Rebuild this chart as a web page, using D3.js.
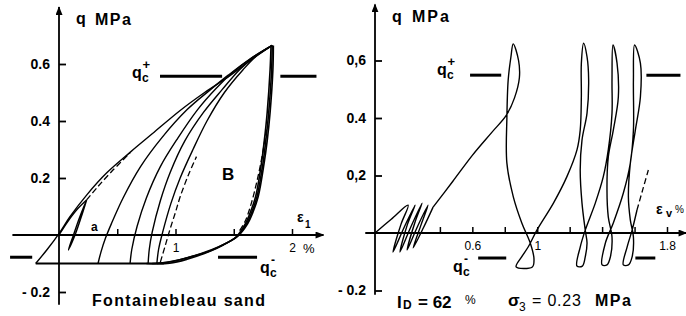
<!DOCTYPE html>
<html><head><meta charset="utf-8">
<script src="https://cdn.jsdelivr.net/npm/d3@7"></script>
<style>body{margin:0;background:#fff}svg{display:block}text{font-family:"Liberation Sans",Arial,sans-serif;fill:#000}</style>
</head><body><svg id="c" width="686" height="316"></svg>
<script>
// ---------- LEFT PANEL DATA (ε1 %, q MPa) ----------
const leftYTicks = [-0.2, 0.2, 0.4, 0.6];
const leftYLabels = ["- 0.2", "0.2", "0.4", "0.6"];
const leftXTicks = [0.5, 1, 1.5, 2];
const leftXLabels = ["", "1", "", "2"];
const qcPlus = 0.557, qcMinus = -0.078;
const leftInitial = [[0,0],[0.08,0.05],[0.16,0.092],[0.237,0.123]];
const leftLoopA = [[0.237,0.123],[0.175,0.06],[0.12,-0.005],[0.08,-0.053],[0.135,-0.003],[0.19,0.062],[0.237,0.123]];
const leftDashA = [[0.237,0.123],[0.33,0.168],[0.45,0.222],[0.61,0.288]];
const leftEnvelope = [[-0.2,-0.1],[-0.1,-0.05],[0,0.005],[0.094,0.064],[0.237,0.14],[0.41,0.218],[0.61,0.29],[0.8,0.355],[1.04,0.437],[1.25,0.5],[1.47,0.56],[1.65,0.615],[1.83,0.665]];
const leftReload2 = [[0.335,-0.1],[0.36,-0.06],[0.40,-0.01],[0.45,0.04],[0.55,0.13],[0.70,0.24],[0.88,0.34],[1.10,0.44],[1.30,0.51],[1.45,0.56],[1.63,0.615],[1.83,0.665]];
const leftReload3 = [[0.61,-0.1],[0.625,-0.05],[0.67,0.03],[0.75,0.13],[0.87,0.24],[1.02,0.34],[1.19,0.44],[1.35,0.515],[1.49,0.57],[1.65,0.62],[1.83,0.665]];
const leftReload4 = [[0.765,-0.1],[0.775,-0.05],[0.80,0.01],[0.87,0.12],[0.955,0.22],[1.08,0.33],[1.24,0.43],[1.40,0.51],[1.55,0.58],[1.68,0.625],[1.83,0.665]];
const leftReload5 = [[0.84,-0.1],[0.855,-0.05],[0.89,0.01],[0.96,0.11],[1.04,0.2],[1.15,0.3],[1.27,0.4],[1.42,0.5],[1.58,0.58],[1.70,0.63],[1.83,0.665]];
const leftReloadDash = [[0.87,-0.095],[0.91,-0.04],[0.953,0.02],[1.0,0.08],[1.04,0.134],[1.11,0.21],[1.18,0.275]];
const leftUnload1 = [[1.83,0.665],[1.825,0.58],[1.80,0.43],[1.775,0.33],[1.75,0.25],[1.70,0.135],[1.65,0.075],[1.61,0.04],[1.53,-0.005],[1.42,-0.032],[1.30,-0.055],[1.10,-0.08],[0.95,-0.095],[0.8,-0.1]];
const leftUnload2 = [[1.82,0.665],[1.812,0.58],[1.787,0.43],[1.762,0.33],[1.737,0.25],[1.688,0.135],[1.638,0.075],[1.60,0.04],[1.52,-0.007],[1.41,-0.035],[1.29,-0.058],[1.10,-0.085],[0.95,-0.099],[0.75,-0.1]];
const leftUnload3 = [[1.84,0.665],[1.836,0.58],[1.812,0.43],[1.787,0.33],[1.76,0.25],[1.71,0.135],[1.66,0.075],[1.62,0.04],[1.54,-0.002],[1.43,-0.03],[1.31,-0.052],[1.12,-0.078],[0.96,-0.093],[0.84,-0.1]];
const leftUnloadDash = [[1.78,0.37],[1.745,0.28],[1.70,0.19],[1.65,0.11],[1.60,0.05],[1.55,0.015]];
const leftBottom = [[-0.2,-0.1],[0.9,-0.1]];

// ---------- RIGHT PANEL DATA (εv %, q MPa) ----------
const rightYTicks = [-0.2, 0.2, 0.4, 0.6];
const rightYLabels = ["- 0.2", "0,2", "0.4", "0,6"];
const rightXTicks = [0.4, 0.6, 0.8, 1.0, 1.2, 1.4, 1.6, 1.8];
const rightXLabels = ["", "0.6", "", "1", "", "", "", "1.8"];
const rightCycles = [[0,0],[0.1,0.048],[0.204,0.097],
  [0.16,0.03],[0.111,-0.066],[0.18,0.02],[0.247,0.097],
  [0.2,0.03],[0.154,-0.066],[0.22,0.02],[0.29,0.104],
  [0.245,0.035],[0.198,-0.059],[0.26,0.02],[0.327,0.097],
  [0.285,0.03],[0.235,-0.052],[0.30,0.02],[0.358,0.09]];
const rightPath = [[0.358,0.09],[0.48,0.18],[0.6,0.27],[0.72,0.35],[0.81,0.41],[0.86,0.47],[0.89,0.54],[0.885,0.6],[0.852,0.658],
  [0.838,0.613],[0.821,0.532],[0.813,0.40],[0.813,0.243],[0.853,0.125],[0.905,0.035],[0.957,-0.035],[0.98,-0.09],[0.97,-0.118],[0.87,-0.118],
  [0.905,-0.082],[0.946,-0.047],[0.998,0.01],[1.1,0.104],[1.183,0.196],[1.245,0.289],[1.265,0.358],[1.272,0.474],[1.272,0.59],[1.286,0.66],
  [1.307,0.613],[1.317,0.532],[1.307,0.417],[1.276,0.323],[1.265,0.219],[1.276,0.104],[1.296,0.01],[1.307,-0.035],[1.296,-0.083],[1.278,-0.115],[1.245,-0.115],
  [1.265,-0.049],[1.296,0.01],[1.358,0.104],[1.407,0.195],[1.438,0.289],[1.461,0.417],[1.461,0.532],[1.467,0.654],
  [1.492,0.591],[1.5,0.473],[1.469,0.358],[1.438,0.264],[1.43,0.15],[1.438,0.056],[1.461,-0.014],[1.451,-0.083],[1.43,-0.111],[1.4,-0.111],
  [1.42,-0.035],[1.469,0.035],[1.531,0.139],[1.574,0.243],[1.593,0.358],[1.593,0.532],[1.6,0.654],
  [1.636,0.591],[1.636,0.473],[1.605,0.358],[1.574,0.243],[1.562,0.125],[1.574,0.045],[1.593,-0.014],[1.585,-0.083],[1.562,-0.111],[1.531,-0.111],
  [1.554,-0.049],[1.585,0.01],[1.615,0.08]];
const rightDash = [[1.615,0.08],[1.65,0.15],[1.685,0.219]];

// ---------- SCALES ----------
const xL = d3.scaleLinear().domain([0, 2]).range([59, 292]);
const yL = d3.scaleLinear().domain([0, 0.6]).range([235, 64]);
const xR = d3.scaleLinear().domain([0, 1.8]).range([375, 667]);
const yR = d3.scaleLinear().domain([0, 0.6]).range([233, 60.5]);

const svg = d3.select("#c");
const defs = svg.append("defs");
defs.append("marker").attr("id","arr").attr("viewBox","0 0 10 8").attr("refX",9).attr("refY",4)
  .attr("markerWidth",9).attr("markerHeight",7).attr("markerUnits","userSpaceOnUse").attr("orient","auto")
  .append("path").attr("d","M0,0 L10,4 L0,8 Z").attr("fill","#000");

function panel(xs, ys, xExt, yExt, yTicks, yLabels, xTicks, xLabels) {
  const g = svg.append("g");
  g.append("line").attr("x1", xs(xExt[0])).attr("x2", xs(xExt[1])).attr("y1", ys(0)).attr("y2", ys(0))
    .attr("stroke","#000").attr("stroke-width",1.8).attr("marker-end","url(#arr)");
  g.append("line").attr("x1", xs(0)).attr("x2", xs(0)).attr("y1", ys(yExt[0])).attr("y2", ys(yExt[1]))
    .attr("stroke","#000").attr("stroke-width",1.8).attr("marker-end","url(#arr)");
  const ya = d3.axisLeft(ys).tickValues(yTicks).tickSizeInner(-7).tickSizeOuter(0).tickPadding(9)
    .tickFormat((d,i)=>yLabels[i]);
  const yg = g.append("g").attr("transform",`translate(${xs(0)},0)`).call(ya);
  yg.select(".domain").remove();
  yg.selectAll("line").attr("stroke-width",1.8);
  yg.selectAll("text").attr("font-size",14).attr("font-weight","bold").attr("font-family","Liberation Sans, Arial");
  const xa = d3.axisBottom(xs).tickValues(xTicks).tickSizeInner(-6).tickSizeOuter(0).tickPadding(8)
    .tickFormat((d,i)=>xLabels[i]);
  const xg = g.append("g").attr("transform",`translate(0,${ys(0)})`).call(xa);
  xg.select(".domain").remove();
  xg.selectAll("line").attr("stroke-width",1.5);
  xg.selectAll("text").attr("font-size",12).attr("font-family","Liberation Sans, Arial");
  return g;
}

const gL = panel(xL, yL, [-0.4, 2.27], [-0.245, 0.8], leftYTicks, leftYLabels, leftXTicks, leftXLabels);
const gR = panel(xR, yR, [-0.06, 1.92], [-0.215, 0.795], rightYTicks, rightYLabels, rightXTicks, rightXLabels);

const lineL = d3.line().x(d=>xL(d[0])).y(d=>yL(d[1])).curve(d3.curveCatmullRom.alpha(0.5));
const lineR = d3.line().x(d=>xR(d[0])).y(d=>yR(d[1])).curve(d3.curveCatmullRom.alpha(0.5));

function draw(g, gen, data, w, dash) {
  g.append("path").attr("d", gen(data)).attr("fill","none").attr("stroke","#000")
    .attr("stroke-width", w).attr("stroke-linejoin","round").attr("stroke-dasharray", dash || null);
}
[leftInitial, leftLoopA, leftEnvelope, leftReload2, leftReload3, leftReload4, leftReload5].forEach(s => draw(gL, lineL, s, 1.4));
[leftUnload1, leftUnload2, leftUnload3].forEach(s => draw(gL, lineL, s, 1.6));
draw(gL, lineL, leftBottom, 1.8);
draw(gL, lineL, leftDashA, 1.3, "6,3");
draw(gL, lineL, leftReloadDash, 1.3, "6,3");
draw(gL, lineL, leftUnloadDash, 1.3, "6,3");
draw(gR, lineR, rightCycles, 1.4);
draw(gR, lineR, rightPath, 1.4);
draw(gR, lineR, rightDash, 1.3, "6,3");

const qcLeftPlus = [[0.867,1.40],[1.90,2.21]], qcLeftMinus = [[1.365,1.70],[-0.42,-0.23]];
const qcRightPlus = [[0.586,0.778],[1.673,1.883]], qcRightMinus = [[0.636,0.809],[1.605,1.728]];
function hseg(g, xs, ys, segs, q) {
  segs.forEach(s => g.append("line").attr("x1", xs(s[0])).attr("x2", xs(s[1])).attr("y1", ys(q)).attr("y2", ys(q))
    .attr("stroke","#000").attr("stroke-width",3));
}
hseg(gL, xL, yL, qcLeftPlus, qcPlus); hseg(gL, xL, yL, qcLeftMinus, qcMinus);
hseg(gR, xR, yR, qcRightPlus, 0.549); hseg(gR, xR, yR, qcRightMinus, -0.087);

function txt(x, y, s, size, bold, anchor) {
  return svg.append("text").attr("x", x).attr("y", y).attr("font-size", size)
    .attr("font-weight", bold ? "bold" : "normal").attr("text-anchor", anchor || "start").text(s);
}
function qc(x, y, sign) {
  txt(x, y, "q", 16, true);
  txt(x + 10, y + 4, "c", 12, true);
  if (sign === "+") txt(x + 10.5, y - 9, "+", 13, true);
  else txt(x + 11, y - 9, "-", 12, true);
}
txt(76, 24, "q", 16, true); txt(95, 25, "MPa", 16, true).attr("letter-spacing", 1.5);
txt(392, 22, "q", 16, true); txt(412, 22, "MPa", 16, true).attr("letter-spacing", 2);
txt(297, 222, "ε", 14, true); txt(305, 228, "1", 10, true);
txt(656, 214, "ε", 14, true); txt(666, 217, "v", 11, true); txt(675, 213, "%", 10, false);
txt(303, 253, "%", 13, false);
qc(132, 78, "+"); qc(260, 273, "-");
qc(437, 75, "+"); qc(453, 272, "-");
txt(91, 231, "a", 12, true);
txt(222, 180, "B", 17, true);
txt(92, 306, "Fontainebleau  sand", 16, true).attr("textLength", 173);
txt(397, 308, "I", 17, true); txt(403, 309, "D", 12, true);
txt(418, 308, "= 62", 17, true); txt(465, 304, "%", 12, false);
txt(508, 306, "σ", 17, true); txt(519, 311, "3", 12, false);
txt(532, 306, "= 0.23", 16, false).attr("letter-spacing", 0.8);
txt(595, 306, "MPa", 16, true).attr("letter-spacing", 1.5);
</script></body></html>
